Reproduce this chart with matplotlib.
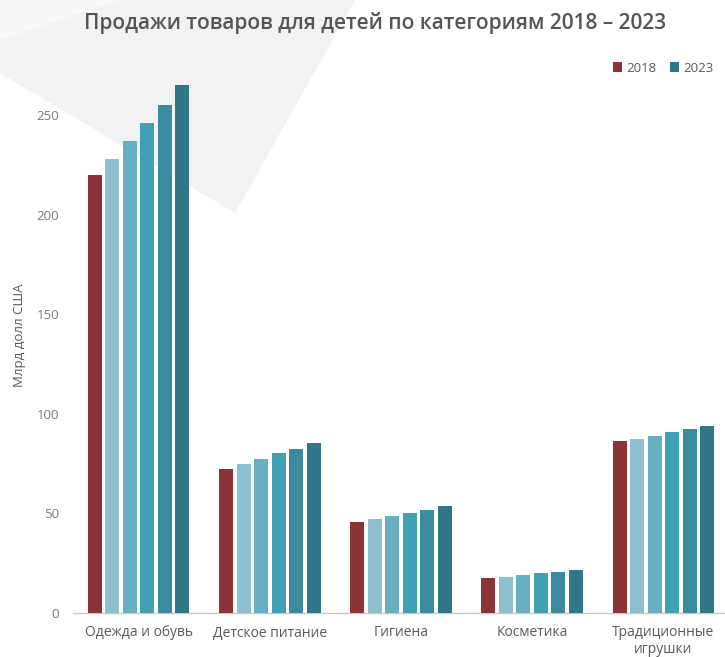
import matplotlib
matplotlib.use("Agg")
import matplotlib.pyplot as plt
from matplotlib.patches import Polygon
import numpy as np

plt.rcParams['font.family'] = ['Open Sans', 'DejaVu Sans']

categories = ["Одежда и обувь", "Детское питание", "Гигиена", "Косметика", "Традиционные\nигрушки"]
years = ["2018", "2019", "2020", "2021", "2022", "2023"]
values = {
    "2018": [220, 72.3, 45.5, 17.7, 86.3],
    "2019": [228, 74.8, 47.0, 17.9, 87.3],
    "2020": [237, 77.3, 48.5, 19.1, 89.0],
    "2021": [246, 80.2, 50.2, 19.9, 90.7],
    "2022": [255, 82.5, 51.7, 20.6, 92.4],
    "2023": [265, 85.2, 53.6, 21.4, 94.0],
}
colors = ["#8c3338", "#8ebfcf", "#68afc1", "#40a0b4", "#3a8ba0", "#2f7688"]
yticks = [0, 50, 100, 150, 200, 250]

W, H = 725, 657
fig = plt.figure(figsize=(W/100, H/100), dpi=100)
fig.patch.set_facecolor("white")

# background decoration
bg = fig.add_axes([0, 0, 1, 1], zorder=-10)
bg.set_xlim(0, W); bg.set_ylim(H, 0); bg.axis("off")
bg.add_patch(Polygon([(0, 0), (355, 0), (235, 213), (0, 73)], closed=True,
                     facecolor="#f1f2f4", edgecolor="none"))
bg.add_patch(Polygon([(0, 0), (120, 0), (0, 40)], closed=True,
                     facecolor="#f7f8f9", edgecolor="none"))

ax_left = 73 / W
ax_right = 729 / W
ax_bottom = (H - 613) / H
ymax = 270
ax_height = ymax * 1.992 / H
ax = fig.add_axes([ax_left, ax_bottom, ax_right - ax_left, ax_height])
ax.patch.set_alpha(0)

x = np.arange(len(categories))
step = 0.8 / len(years)
bw = 0.107
for i, (yr, c) in enumerate(zip(years, colors)):
    offs = (i - (len(years) - 1) / 2) * step
    ax.bar(x + offs, values[yr], width=bw, color=c, label=yr, zorder=3)

ax.set_xlim(-0.5, len(categories) - 0.5)
ax.set_ylim(0, ymax)
ax.set_yticks(yticks)
ax.set_yticklabels([str(t) for t in yticks], fontsize=9.5, color="#7a7a7a")
ax.set_xticks(x)
ax.set_xticklabels(categories, fontsize=10, color="#5a5a5a", linespacing=1.1)
ax.tick_params(axis="both", length=0)
ax.tick_params(axis="y", pad=10)
ax.tick_params(axis="x", pad=9)
for s in ["top", "right", "left"]:
    ax.spines[s].set_visible(False)
ax.spines["bottom"].set_color("#c8c8c8")
ax.spines["bottom"].set_linewidth(1)

fig.text(20 / W, 1 - 335 / H, "Млрд долл США", rotation=90, ha="center", va="center",
         fontsize=9.5, color="#5a5a5a")

fig.text(375 / W, 1 - 23 / H, "Продажи товаров для детей по категориям 2018 – 2023",
         ha="center", va="center", fontsize=15, fontweight="semibold", color="#555555")

handles, labels = ax.get_legend_handles_labels()
leg = fig.legend([handles[0], handles[-1]], [labels[0], labels[-1]],
                 loc="center right", bbox_to_anchor=(1.0, 1 - 68 / H), ncol=2,
                 frameon=False, fontsize=9.5, handlelength=0.7, handleheight=0.7,
                 handletextpad=0.3, columnspacing=1.0, labelcolor="#5a5a5a")

fig.savefig("out.png", dpi=100)
